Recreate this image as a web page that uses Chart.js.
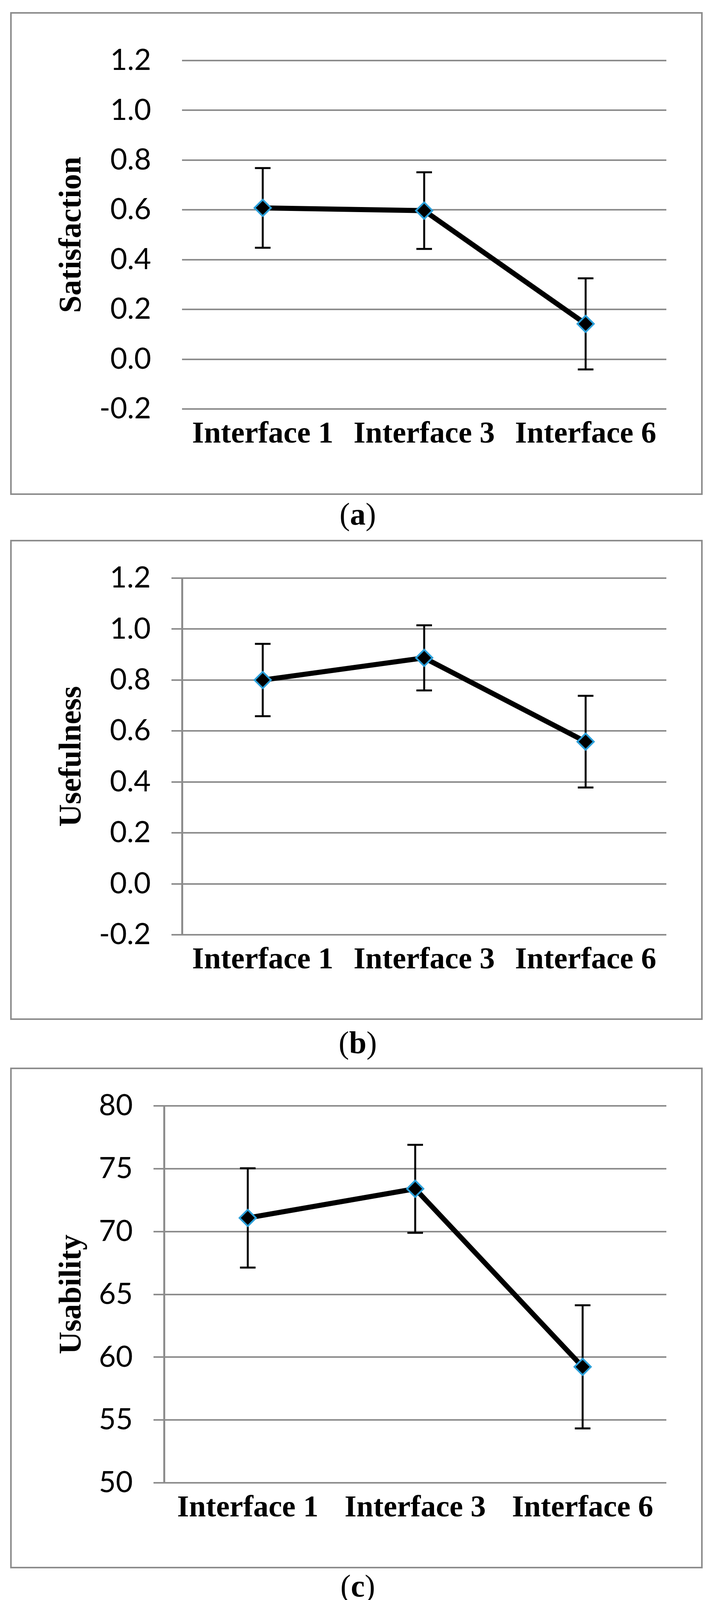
<!DOCTYPE html>
<html>
<head>
<meta charset="utf-8">
<script src="https://cdn.jsdelivr.net/npm/chart.js@4.4.1/dist/chart.umd.min.js"></script>
<style>
body{margin:0;background:#fff;width:1828px;height:4141px;position:relative;overflow:hidden}
canvas{position:absolute;left:26px}
.borda{position:absolute;left:26px;width:1773px;box-sizing:border-box;border:4px solid #8c8c8c;pointer-events:none}
.legenda{position:absolute;left:766px;width:300px;height:100px;line-height:100px;text-align:center;font-family:"Liberation Serif";font-size:80px;color:#000}
</style>
</head>
<body>
<canvas id="graficoA" width="1773" height="1236" style="top:31px;width:1773px;height:1236px"></canvas>
<div class="borda" style="top:31px;height:1236px"></div>
<div class="legenda" style="top:1266px">(<b>a</b>)</div>

<canvas id="graficoB" width="1773" height="1229" style="top:1382px;width:1773px;height:1229px"></canvas>
<div class="borda" style="top:1382px;height:1229px"></div>
<div class="legenda" style="top:2619px">(<b>b</b>)</div>

<canvas id="graficoC" width="1773" height="1282" style="top:2733px;width:1773px;height:1282px"></canvas>
<div class="borda" style="top:2733px;height:1282px"></div>
<div class="legenda" style="top:4010px">(<b>c</b>)</div>

<script>
const categorias = ["Interface 1", "Interface 3", "Interface 6"];

const satisfacao = [0.608, 0.597, 0.142];
const erroSatisfacao = [0.160, 0.154, 0.183];

const utilidade = [0.800, 0.887, 0.558];
const erroUtilidade = [0.142, 0.128, 0.180];

const usabilidade = [71.08, 73.40, 59.23];
const erroUsabilidade = [3.95, 3.50, 4.90];

const ticksA = [-0.2, 1.2, 0.2];
const ticksB = [-0.2, 1.2, 0.2];
const ticksC = [50, 80, 5];

// barras de erro desenhadas antes da linha e dos pontos
const barrasErro = {
  id: 'barrasErro',
  beforeDatasetsDraw(chart, args, opts){
    const ctx = chart.ctx;
    const sx = chart.scales.x, sy = chart.scales.y;
    const valores = chart.data.datasets[0].data;
    ctx.save();
    ctx.strokeStyle = '#000';
    ctx.lineWidth = 5;
    valores.forEach((v,i)=>{
      const e = opts.erros[i];
      const px = sx.getPixelForValue(i);
      const yt = sy.getPixelForValue(v+e);
      const yb = sy.getPixelForValue(v-e);
      ctx.beginPath();
      ctx.moveTo(px, yt); ctx.lineTo(px, yb);
      ctx.moveTo(px-20, yt); ctx.lineTo(px+20, yt);
      ctx.moveTo(px-20, yb); ctx.lineTo(px+20, yb);
      ctx.stroke();
    });
    ctx.restore();
  }
};

function rotulo(v, decimais){
  const r = Math.abs(v) < 1e-9 ? 0 : v;
  return Number(r).toFixed(decimais);
}

function criarGrafico(id, valores, erros, titulo, limites, decimais, eixo, esquerda, topo, baixo){
  const canvas = document.getElementById(id);
  return new Chart(canvas, {
    type: 'line',
    data: {
      labels: categorias,
      datasets: [{
        data: valores,
        borderColor: '#000',
        borderWidth: 13,
        tension: 0,
        pointStyle: 'rectRot',
        pointRadius: 21,
        pointBorderWidth: 4.5,
        pointBackgroundColor: '#000',
        pointBorderColor: '#2b9fd9'
      }]
    },
    options: {
      responsive: false,
      devicePixelRatio: 1,
      animation: false,
      events: [],
      layout: { padding: { left: 0, top: topo, right: 93, bottom: 0 } },
      plugins: {
        legend: { display: false },
        tooltip: { enabled: false },
        barrasErro: { erros: erros }
      },
      scales: {
        x: {
          offset: true,
          grid: { display: false, drawTicks: false },
          border: { display: false },
          ticks: { color: '#000', padding: 19, maxRotation: 0, autoSkip: false,
            font: { family: 'Liberation Serif', size: 78, weight: 'bold' } },
          afterFit: s => { s.height = baixo; }
        },
        y: {
          min: limites[0],
          max: limites[1],
          ticks: { stepSize: limites[2], color: '#000', padding: eixo ? 53 : 79,
            callback: v => rotulo(v, decimais),
            font: { family: 'Lato', size: 75 } },
          grid: { color: '#8c8c8c', lineWidth: 4, drawTicks: eixo, tickLength: 27 },
          border: { display: eixo, color: '#8c8c8c', width: 5 },
          title: { display: true, text: titulo, color: '#000', padding: { top: 111, bottom: 0 },
            font: { family: 'Liberation Serif', size: 80, weight: 'bold' } },
          afterFit: s => { s.width = esquerda; }
        }
      }
    },
    plugins: [barrasErro]
  });
}

criarGrafico("graficoA", satisfacao, erroSatisfacao, "Satisfaction", ticksA, 1, false, 440, 92, 220);
criarGrafico("graficoB", utilidade, erroUtilidade, "Usefulness", ticksB, 1, true, 440, 92, 218);
criarGrafico("graficoC", usabilidade, erroUsabilidade, "Usability", ticksC, 0, true, 394, 91, 219);
</script>
</body>
</html>
